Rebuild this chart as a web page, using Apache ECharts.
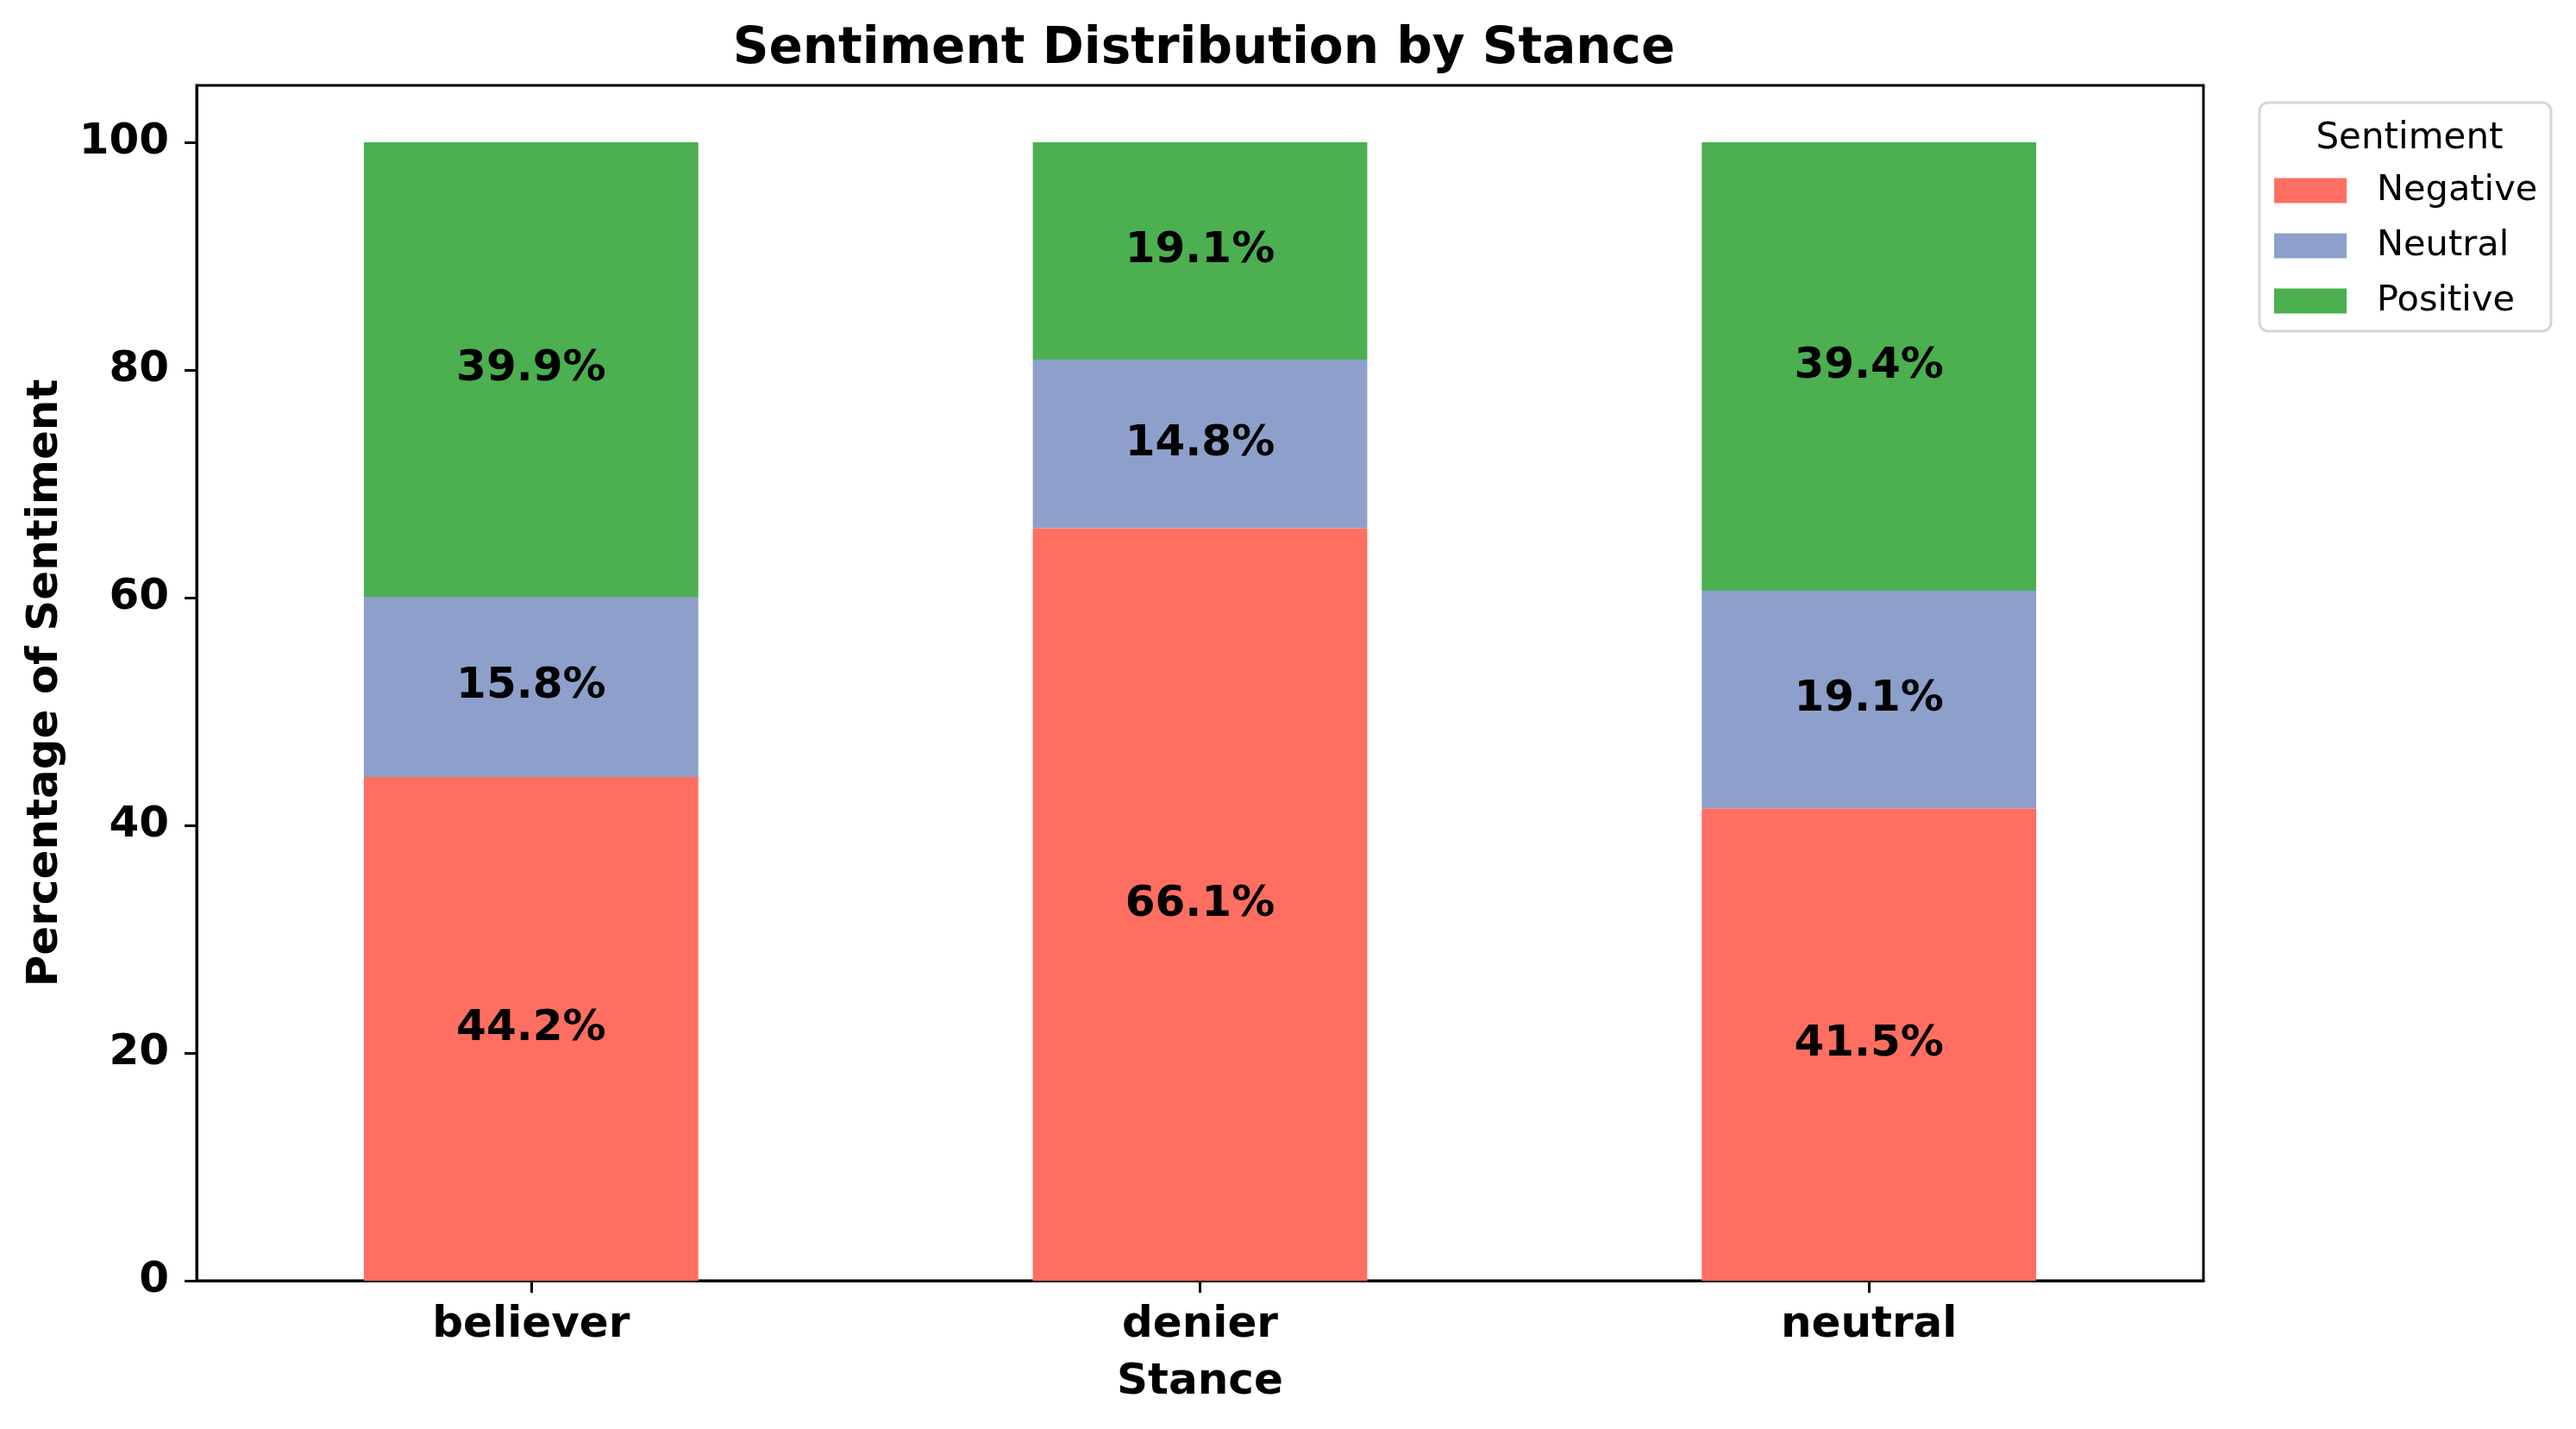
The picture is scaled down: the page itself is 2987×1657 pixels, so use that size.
<!DOCTYPE html>
<html>
<head>
<meta charset="utf-8">
<script src="https://cdn.jsdelivr.net/npm/echarts@6/dist/echarts.min.js"></script>
<style>
html,body{margin:0;padding:0;background:#fff;}
#chart{width:2987px;height:1657px;}
</style>
</head>
<body>
<div id="chart"></div>
<script>
const stances = ['believer', 'denier', 'neutral'];
const sentiments = ['Negative', 'Neutral', 'Positive'];
const negative = [44.24, 66.1, 41.5];
const neutral = [15.84, 14.8, 19.1];
const positive = [39.92, 19.1, 39.4];
const yTicks = [0, 20, 40, 60, 80, 100];
const colors = ['#FF6F61', '#8DA0CB', '#4CAF50'];

const FONT = 'DejaVu Sans';
const seriesData = [negative, neutral, positive];

const chart = echarts.init(document.getElementById('chart'), null, {renderer: 'canvas'});
chart.setOption({
  animation: false,
  backgroundColor: '#fff',
  textStyle: {fontFamily: FONT},
  title: [
    {
      text: 'Sentiment Distribution by Stance',
      left: 1391, top: 24, textAlign: 'center',
      textStyle: {fontFamily: FONT, fontWeight: 'bold', fontSize: 58, color: '#000', lineHeight: 58}
    },
    {
      text: 'Sentiment',
      left: 2789, top: 135, textAlign: 'center',
      textStyle: {fontFamily: FONT, fontWeight: 'normal', fontSize: 42, color: '#000', lineHeight: 42}
    }
  ],
  graphic: [{
    type: 'rect', z: 0,
    shape: {x: 2620, y: 119, width: 338, height: 265, r: 10},
    style: {fill: '#fff', stroke: '#d6d6d6', lineWidth: 3}
  }],
  legend: {
    data: sentiments,
    orient: 'vertical',
    left: 2637, top: 200,
    padding: 0,
    itemWidth: 84, itemHeight: 29, itemGap: 22,
    icon: 'rect',
    z: 10,
    textStyle: {fontFamily: FONT, fontSize: 41.5, color: '#000', lineHeight: 42, padding: [0, 0, 0, 30]}
  },
  grid: {
    left: 228, top: 99, width: 2327, height: 1386,
    show: true, borderColor: '#000', borderWidth: 3, backgroundColor: 'transparent',
    containLabel: false
  },
  xAxis: {
    type: 'category',
    data: stances,
    boundaryGap: true,
    name: 'Stance',
    nameLocation: 'middle',
    nameGap: 93,
    nameTextStyle: {fontFamily: FONT, fontWeight: 'bold', fontSize: 50, color: '#000', lineHeight: 50},
    axisLine: {show: true, lineStyle: {color: '#000', width: 3}},
    axisTick: {show: true, alignWithLabel: true, length: 14, lineStyle: {color: '#000', width: 3}},
    axisLabel: {margin: 27, fontFamily: FONT, fontWeight: 'bold', fontSize: 50, color: '#000', lineHeight: 50},
    splitLine: {show: false}
  },
  yAxis: {
    type: 'value',
    min: 0, max: 105, interval: 20,
    name: 'Percentage of Sentiment',
    nameLocation: 'middle',
    nameGap: 150,
    nameRotate: 90,
    nameTextStyle: {fontFamily: FONT, fontWeight: 'bold', fontSize: 50, color: '#000', lineHeight: 50},
    axisLine: {show: true, lineStyle: {color: '#000', width: 3}},
    axisTick: {show: true, length: 14, customValues: yTicks, lineStyle: {color: '#000', width: 3}},
    axisLabel: {margin: 32, customValues: yTicks, fontFamily: FONT, fontWeight: 'bold', fontSize: 50, color: '#000'},
    splitLine: {show: false}
  },
  series: sentiments.map((name, i) => ({
    name: name,
    type: 'bar',
    stack: 'total',
    barWidth: '50%',
    data: seriesData[i],
    itemStyle: {color: colors[i]},
    label: {
      show: true,
      position: 'inside',
      formatter: p => p.value.toFixed(1) + '%',
      fontFamily: FONT, fontWeight: 'bold', fontSize: 50, color: '#000'
    }
  }))
});
</script>
</body>
</html>
